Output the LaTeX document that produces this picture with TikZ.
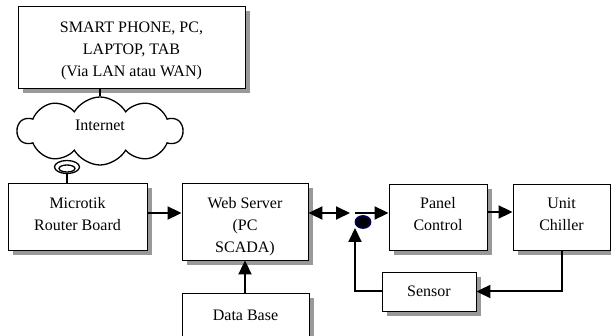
\documentclass[tikz,border=0pt]{standalone}
\usepackage{fontspec}
\setmainfont{Liberation Serif}
\usetikzlibrary{arrows.meta,shapes.symbols,shapes.geometric,shadows}
\tikzset{
  blk/.style={draw, line width=0.9pt, fill=white, align=center,
    font=\fontsize{16}{22}\selectfont, inner sep=0pt,
    drop shadow={shadow xshift=5pt, shadow yshift=-5pt, fill=black!40, opacity=1}},
  link/.style={line width=2pt, -{Triangle[length=14pt,width=13pt]}},
  dlink/.style={line width=2pt, {Triangle[length=14pt,width=13pt]}-{Triangle[length=14pt,width=13pt]}},
  wire/.style={line width=2pt},
}
\newcommand{\lowered}[2]{\raisebox{-#1}[\height][\depth]{#2}}
\newcommand{\twolines}[3]{\lowered{#1}{\begin{tabular}{@{}c@{}}#2\\#3\end{tabular}}}
\begin{document}
\begin{tikzpicture}[x=1pt,y=-1pt]
\useasboundingbox (0,0) rectangle (611,336);

% client devices
\node[blk, minimum width=227pt, minimum height=82pt] (dev) at (131.5,47)
  {\lowered{3pt}{\begin{tabular}{@{}c@{}}SMART PHONE, PC,\\LAPTOP, TAB\\(Via LAN atau WAN)\end{tabular}}};

% internet cloud
\node[cloud, draw, line width=1.3pt, cloud puffs=10, cloud puff arc=120,
  minimum width=165pt, minimum height=68pt, inner sep=0pt, aspect=2.4,
  font=\fontsize{16}{22}\selectfont] (net) at (100,131) {\lowered{-6pt}{Internet}};

% coil between cloud and router
\node[ellipse, draw, line width=1.3pt, minimum width=25pt, minimum height=13pt, inner sep=0pt] (coil) at (67,167) {};
\node[ellipse, draw, line width=1.3pt, minimum width=16pt, minimum height=7pt, inner sep=0pt] (coilin) at (67,168.5) {};

% main chain
\node[blk, minimum width=139pt, minimum height=67pt] (mt) at (77.5,216.5) {\twolines{-1.5pt}{Microtik}{Router Board}};
\node[blk, minimum width=126pt, minimum height=77pt] (ws) at (245,221.5)
  {\lowered{5pt}{\begin{tabular}{@{}c@{}}Web Server\\(PC\\SCADA)\end{tabular}}};
\node[blk, minimum width=127pt, minimum height=47pt] (db) at (245.5,316.5) {\lowered{-1pt}{Data Base}};
\node[blk, minimum width=98pt, minimum height=66pt] (pc) at (438,217) {\twolines{-2pt}{Panel}{Control}};
\node[blk, minimum width=97pt, minimum height=66pt] (uc) at (561.5,217) {\twolines{-2pt}{Unit}{Chiller}};
\node[blk, minimum width=94pt, minimum height=39pt] (sn) at (429,291.5) {Sensor};

% junction points
\coordinate (jend) at (350,213);
\coordinate (jin) at (355,213);
\coordinate (fbtip) at (355,228);
\node[ellipse, draw=blue!35!black, line width=1.8pt, fill=black,
  minimum width=15pt, minimum height=12pt, inner sep=0pt] (sum) at (363,222) {};

% connectors
\draw[wire] (net.north) -- (net.north |- dev.south);
\draw[wire] (coil.south) -- (coil.south |- mt.north);
\draw[link] (mt.east |- 0,213) -- (ws.west |- 0,213);
\draw[link] (db.north -| ws.south) -- (ws.south);
\draw[dlink] (ws.east |- jend) -- (jend);
\draw[link] (jin) -- (jin -| pc.west);
\draw[link] (pc.east |- 0,212) -- (uc.west |- 0,212);
\draw[link] (uc.south -| 562,0) -- (562,291.5) -- (sn.east);
\draw[link] (sn.west) -- (sn.west -| fbtip) -- (fbtip);
\end{tikzpicture}
\end{document}
